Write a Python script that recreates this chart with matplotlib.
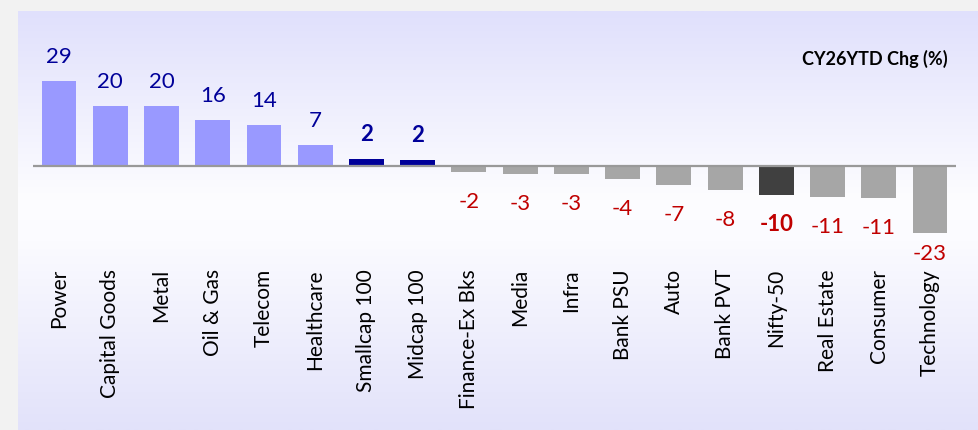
import matplotlib.pyplot as plt
import matplotlib as mpl
from matplotlib.colors import LinearSegmentedColormap
import numpy as np

#-------------------------------------------------------------------------------
#PART 1: Data
#-------------------------------------------------------------------------------

sectors = ['Power', 'Capital Goods', 'Metal', 'Oil & Gas', 'Telecom', 'Healthcare',
           'Smallcap 100', 'Midcap 100', 'Finance-Ex Bks', 'Media', 'Infra',
           'Bank PSU', 'Auto', 'Bank PVT', 'Nifty-50', 'Real Estate', 'Consumer',
           'Technology']
chg = [29.0, 20.4, 20.4, 15.6, 13.9, 7.1, 2.3, 2.0, -2.1, -2.6, -2.7,
       -4.3, -6.6, -8.2, -9.9, -10.7, -10.8, -23.0]
highlight = ['Smallcap 100', 'Midcap 100', 'Nifty-50']
chart_title = 'CY26YTD Chg (%)'

#-------------------------------------------------------------------------------
#PART 2: Graph output
#-------------------------------------------------------------------------------

mpl.rcParams['font.family'] = ['Lato', 'DejaVu Sans']

W, H = 979, 430
fig = plt.figure(figsize=(W / 100, H / 100), dpi=100, facecolor='#f2f2f2')
ax = fig.add_axes([18 / W, 0, (W - 18) / W, (H - 11) / H])

#Background gradient of the panel
grad = LinearSegmentedColormap.from_list(
    'panel', [(0.0, '#e0e0fc'), (0.45, '#fdfdff'), (0.55, '#fbfbff'), (1.0, '#e2e2fa')])
ax.imshow(np.linspace(0, 1, 256).reshape(-1, 1), cmap=grad, aspect='auto',
          extent=(0, 1, 0, 1), transform=ax.transAxes, zorder=0)

x = np.arange(len(sectors))

colors = []
for s, v in zip(sectors, chg):
    if s == 'Nifty-50':
        colors.append('#404040')
    elif s in highlight:
        colors.append('#000099')
    elif v >= 0:
        colors.append('#9999ff')
    else:
        colors.append('#a6a6a6')

ax.bar(x, chg, 0.68, color=colors, zorder=2)
ax.hlines(0, -0.5, len(sectors) - 0.5, color='#999999', linewidth=1.6, zorder=3)

#Data labels
for xi, s, v in zip(x, sectors, chg):
    bold = 'bold' if s in highlight else 'normal'
    if v >= 0:
        ax.annotate(f'{v:.0f}', (xi, v), xytext=(0, 13), textcoords='offset points',
                    ha='center', va='baseline', fontsize=16, color='#000099',
                    fontweight=bold, zorder=4)
    else:
        off = -19.5 if s == 'Technology' else -26
        ax.annotate(f'{v:.0f}', (xi, v), xytext=(0, off), textcoords='offset points',
                    ha='center', va='baseline', fontsize=16, color='#c00000',
                    fontweight=bold, zorder=4)

#Category labels
for xi, s in zip(x, sectors):
    ax.text(xi, (H - 269) / (H - 11), s, transform=ax.get_xaxis_transform(),
            rotation=90, ha='center', va='top', fontsize=15, color='black')

ax.text(0.967, 0.885, chart_title, transform=ax.transAxes, ha='right', va='center',
        fontsize=13, fontweight='bold', color='black')

ax.set_xlim(-0.80, 17.955)
ax.set_ylim(-(H - 166) / 2.93, (166 - 11) / 2.93)
ax.axis('off')

fig.savefig('out.png', dpi=100, facecolor=fig.get_facecolor())
